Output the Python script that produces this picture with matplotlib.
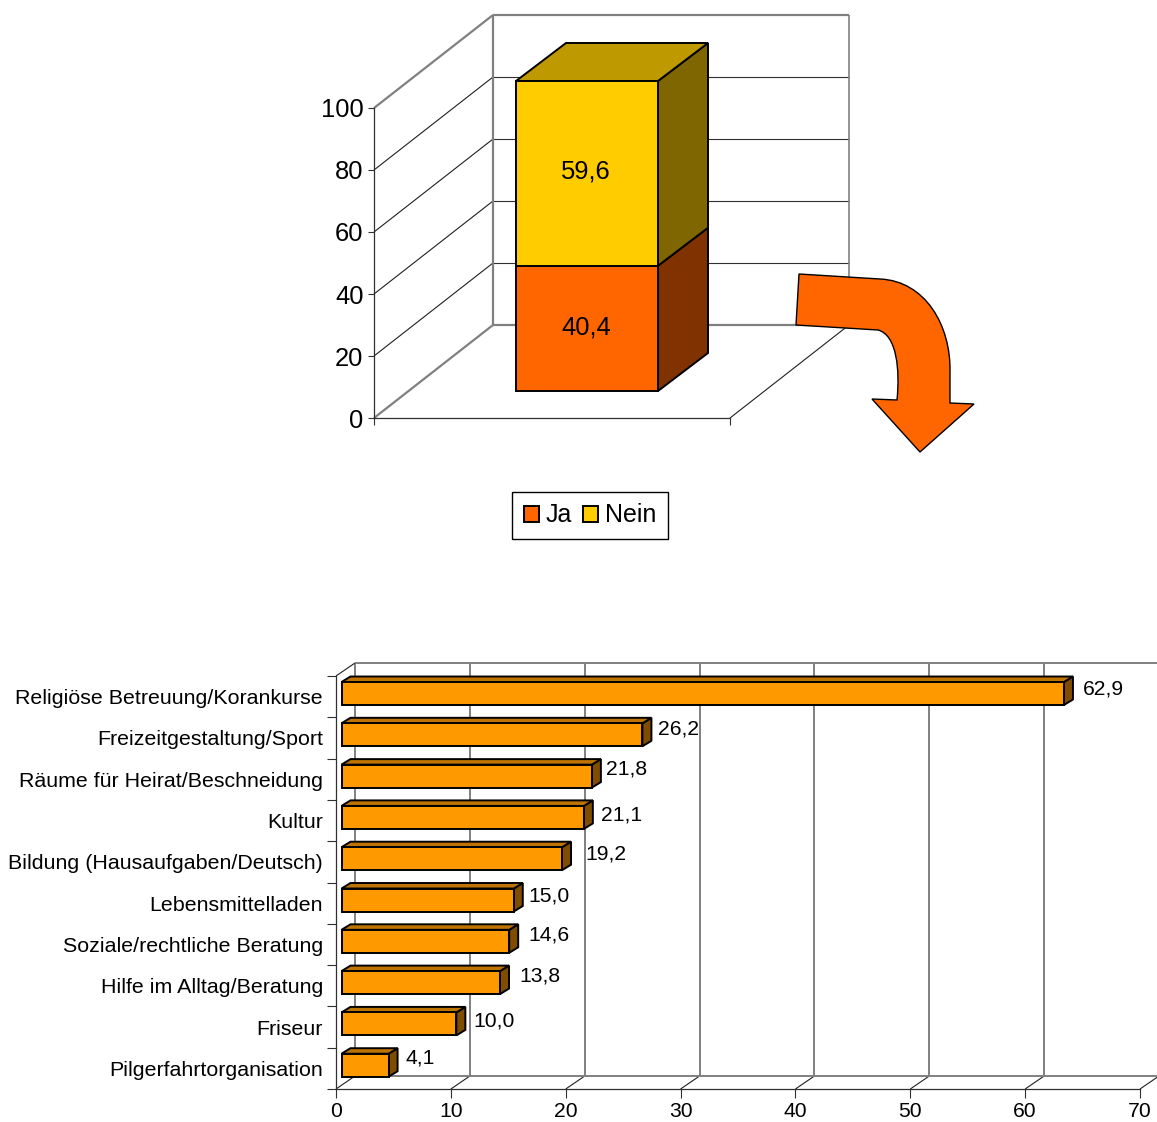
import matplotlib
matplotlib.use("Agg")
import matplotlib.pyplot as plt
import numpy as np
from matplotlib.patches import Patch, PathPatch, Polygon
from matplotlib.path import Path

plt.rcParams["font.family"] = ["Liberation Sans", "DejaVu Sans"]

W, H = 1157, 1122
PX = 72 / 100  # one pixel in points

# Oberes Diagramm
stack_names = ["Ja", "Nein"]
stack_values = [40.4, 59.6]
stack_labels = ["40,4", "59,6"]
stack_front = ["#FF6600", "#FFCC00"]
stack_side = ["#803300", "#806600"]
stack_top = ["#BF4D00", "#BF9900"]
y_ticks_top = [0, 20, 40, 60, 80, 100]

# Unteres Diagramm
categories = ["Religiöse Betreuung/Korankurse", "Freizeitgestaltung/Sport",
              "Räume für Heirat/Beschneidung", "Kultur",
              "Bildung (Hausaufgaben/Deutsch)", "Lebensmittelladen",
              "Soziale/rechtliche Beratung", "Hilfe im Alltag/Beratung",
              "Friseur", "Pilgerfahrtorganisation"]
values = [62.9, 26.2, 21.8, 21.1, 19.2, 15.0, 14.6, 13.8, 10.0, 4.1]
value_labels = ["62,9", "26,2", "21,8", "21,1", "19,2", "15,0", "14,6", "13,8", "10,0", "4,1"]
x_ticks_bottom = [0, 10, 20, 30, 40, 50, 60, 70]
# Verschiebung der Wertelabels in Pixeln
label_dx = [39, 36, 35, 38, 44, 35, 40, 40, 38, 32]
label_dy = [4.5, 6, 7, 2, 5, 4, 6, 7, 3, 7]

GREY = "#808080"
DARK = "#303030"
EDGE = 1.4


def axes_px(left, top, right, bottom):
    return fig.add_axes([left / W, 1 - bottom / H, (right - left) / W, (bottom - top) / H])


def prepare(ax):
    ax.set_facecolor("none")
    for s in ["top", "right"]:
        ax.spines[s].set_visible(False)
    for s in ["left", "bottom"]:
        ax.spines[s].set_color(DARK)
        ax.spines[s].set_linewidth(0.9)


fig = plt.figure(figsize=(W / 100, H / 100), dpi=100)

# ---------- oben ----------
ax = axes_px(374, 108, 730, 418)
prepare(ax)
ax.set_xlim(0, 1)
ax.set_ylim(0, 100)
ax.set_xticks([0, 1], ["", ""])
ax.set_yticks(y_ticks_top)
ax.tick_params(axis="y", labelsize=25.5 * PX, length=4, width=0.8, color=DARK, pad=3.5)
ax.tick_params(axis="x", length=5, width=0.8, color=DARK)

# Tiefe der Wand, in Achseneinheiten
ddx, ddy = 119 / 356, 93 / 3.1
line_kw = dict(clip_on=False, solid_capstyle="butt")
for v in y_ticks_top:
    thick = v in (0, 100)
    ax.plot([0, ddx], [v, v + ddy], color=GREY if thick else "#202020", lw=1.6 if thick else 0.8, **line_kw)
    ax.plot([ddx, 1 + ddx], [v + ddy, v + ddy], color=GREY if thick else "#303030", lw=1.6 if thick else 0.8, **line_kw)
ax.plot([ddx, ddx], [ddy, 100 + ddy], color=GREY, lw=1.6, **line_kw)
ax.plot([1 + ddx, 1 + ddx], [ddy, 100 + ddy], color=GREY, lw=1.2, **line_kw)
ax.plot([1, 1 + ddx], [0, ddy], color="#202020", lw=0.8, **line_kw)

bar_x = (516 - 374) / 356
bar_w = (658 - 516) / 356
bar_base = 27 / 3.1
bx, by = 50 / 356, 38 / 3.1
cum = bar_base
for i in range(2):
    v = stack_values[i]
    ax.bar(bar_x, v, bar_w, bottom=cum, align="edge", color=stack_front[i], edgecolor="black", lw=EDGE,
           zorder=5, clip_on=False)
    ax.add_patch(Polygon([[bar_x + bar_w, cum], [bar_x + bar_w + bx, cum + by],
                          [bar_x + bar_w + bx, cum + v + by], [bar_x + bar_w, cum + v]],
                         fc=stack_side[i], ec="black", lw=EDGE, zorder=4, clip_on=False))
    ax.annotate(stack_labels[i], (bar_x + bar_w / 2, cum + v / 2), xytext=(-1 * PX, (1 + i) * 0.9 * PX),
                textcoords="offset points", ha="center", va="center", fontsize=25.5 * PX, zorder=6)
    cum += v
ax.add_patch(Polygon([[bar_x, cum], [bar_x + bx, cum + by], [bar_x + bar_w + bx, cum + by], [bar_x + bar_w, cum]],
                     fc=stack_top[1], ec="black", lw=EDGE, zorder=4, clip_on=False))

handles = [Patch(fc=stack_front[i], ec="black", lw=EDGE, label=stack_names[i]) for i in range(2)]
fig.legend(handles=handles, ncol=2, loc="center", bbox_to_anchor=(590 / W, 1 - 515.5 / H),
           fontsize=25 * PX, frameon=True, fancybox=False, framealpha=1, edgecolor="black",
           handlelength=0.6, handleheight=0.6, handletextpad=0.28, columnspacing=0.45,
           borderpad=0.47, borderaxespad=0)

# Pfeil (Zeichnungsobjekt, in Pixeln der Abbildung)
arrow_verts = [(799, 274), (880, 279), (925, 281), (951, 325), (950, 372), (950, 403), (974, 404),
               (920, 452), (872, 399), (897, 400), (900, 370), (897, 335), (878, 330), (796, 325), (799, 274)]
arrow_codes = [Path.MOVETO, Path.LINETO, Path.CURVE4, Path.CURVE4, Path.CURVE4, Path.LINETO, Path.LINETO,
               Path.LINETO, Path.LINETO, Path.LINETO, Path.CURVE4, Path.CURVE4, Path.CURVE4, Path.LINETO,
               Path.CLOSEPOLY]
arrow_path = Path([(x / W, 1 - y / H) for x, y in arrow_verts], arrow_codes)
fig.add_artist(PathPatch(arrow_path, fc="#FF6600", ec="black", lw=1.0, transform=fig.transFigure, zorder=10))

# ---------- unten ----------
ax2 = axes_px(336, 676, 1140, 1089)
prepare(ax2)
ax2.set_xlim(0, 70)
ax2.set_ylim(10, 0)
ax2.set_xticks(x_ticks_bottom)
ax2.set_yticks(np.arange(11), [""] * 11)
ax2.set_yticks(np.arange(10) + 0.5, categories, minor=True)
ax2.tick_params(axis="x", labelsize=21.2 * PX, length=9 * PX, width=0.8, color=DARK, pad=3.2)
ax2.tick_params(axis="y", which="major", length=9 * PX, width=0.8, color=DARK)
ax2.tick_params(axis="y", which="minor", length=0, labelsize=21.4 * PX, pad=13 * PX)

ex, ey = 19 / (804 / 70), -13 / 41.3
for v in x_ticks_bottom:
    ax2.plot([v, v + ex], [10, 10 + ey], color="#202020", lw=0.8, **line_kw)
    if v < 70:
        ax2.plot([v + ex, v + ex], [10 + ey, ey], color=GREY, lw=1.4, **line_kw)
ax2.plot([0, ex], [0, ey], color="#202020", lw=0.8, **line_kw)
ax2.plot([ex, 70 + ex], [ey, ey], color=GREY, lw=1.4, **line_kw)
ax2.plot([ex, 70 + ex], [10 + ey, 10 + ey], color=GREY, lw=1.4, **line_kw)

start = 5.5 / (804 / 70)
bdx, bdy = 9 / (804 / 70), -5.5 / 41.3
bar_h = 23 / 41.3
pos = np.arange(10) + 0.424
ax2.barh(pos, values, bar_h, left=start, color="#FF9900", edgecolor="black", lw=EDGE, zorder=5, clip_on=False)
for k in range(10):
    end = start + values[k]
    t, b = pos[k] - bar_h / 2, pos[k] + bar_h / 2
    ax2.add_patch(Polygon([[end, b], [end + bdx, b + bdy], [end + bdx, t + bdy], [end, t]],
                          fc="#804D00", ec="black", lw=EDGE, zorder=4, clip_on=False))
    ax2.add_patch(Polygon([[start, t], [start + bdx, t + bdy], [end + bdx, t + bdy], [end, t]],
                          fc="#BF7300", ec="black", lw=EDGE, zorder=4, clip_on=False))
    ax2.annotate(value_labels[k], (end, pos[k]), xytext=(label_dx[k] * PX, label_dy[k] * PX),
                 textcoords="offset points", ha="center", va="center", fontsize=21.2 * PX, zorder=6)

fig.savefig("out.png", dpi=100)
